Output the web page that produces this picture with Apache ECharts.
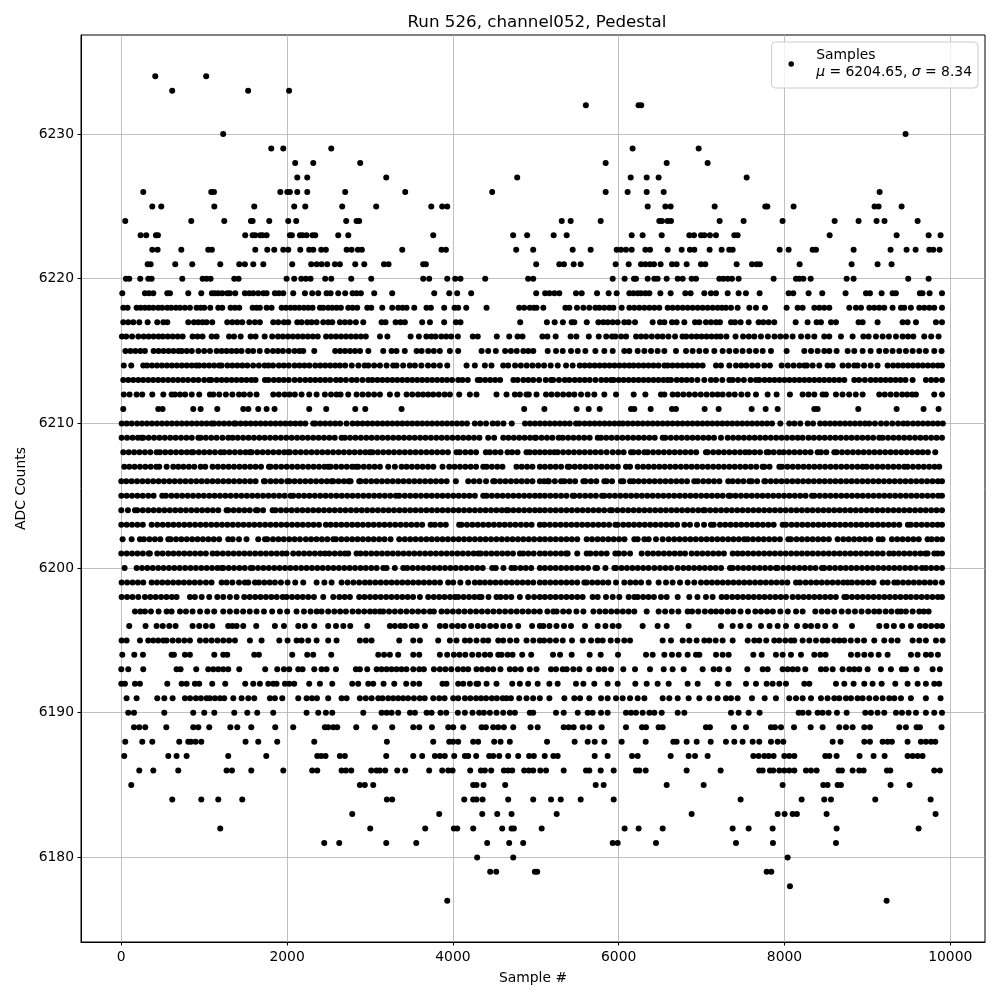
<!DOCTYPE html>
<html><head><meta charset="utf-8">
<style>html,body{margin:0;padding:0;background:#fff}#c{width:1000px;height:1000px}</style>
<script src="https://cdn.jsdelivr.net/npm/echarts@6/dist/echarts.min.js"></script>
</head><body><div id="c"></div>
<script>
const chartTitle='Run 526, channel052, Pedestal';
const xName='Sample #';
const yName='ADC Counts';
const xTicks=[0,2000,4000,6000,8000,10000];
const yTicks=[6180,6190,6200,6210,6220,6230];
const x6234=[410,1024];
const x6233=[614,1530,2024];
const x6232=[5604,6240,6272];
const x6230=[1229,9461];
const x6229=[1809,1954,2533,6168,6965];
const x6228=[2098,2316,2882,5843,6579,7073];
const x6227=[2123,2243,3196,4776,6145,6338,6482,7544];
const x6226=[265,1085,1118,1918,2002,2034,2123,2243,2701,3425,4474,5843,6108,6338,6543,9148];
const x6225=[374,482,1122,1604,2086,2219,2665,3075,3739,3871,3932,6350,6563,6627,7158,7769,7793,8110,9087,9135,9413];
const x6224=[48,844,1242,1564,1584,1785,2014,2110,2713,2838,2870,5313,5421,5783,6490,6522,6590,6631,7218,7507,7977,8605,8894,9111,9207,9606];
const x6223=[233,301,418,442,1495,1584,1616,1676,1704,1753,2034,2058,2155,2187,2235,2307,2340,2617,2738,3763,4727,4896,5216,5373,6157,6289,6519,6852,6909,6993,7033,7101,7174,7395,7435,8545,9353,9739,9883];
const x6222=[374,438,724,1049,1093,1616,1761,1845,1954,2014,2159,2267,2316,2412,2468,2718,2778,2854,2902,3389,3863,3916,4764,4969,5445,5662,5976,6028,6088,6157,6322,6378,6591,6760,6860,6913,7097,7242,7334,7375,7942,8050,8340,8380,8834,9280,9473,9582,9747,9795,9871];
const x6221=[318,354,651,856,1194,1423,1491,1592,1713,2062,2291,2356,2416,2484,2577,2637,2822,2931,3168,3224,3642,3674,5005,5284,5340,5457,5542,5964,6121,6269,6322,6378,6426,6506,6643,6699,6820,6993,7045,7423,7608,7664,7704,8183,8810,9123,9292];
const x6220=[56,96,229,326,366,736,981,1029,1077,1363,1415,1994,2086,2171,2227,2283,2460,2533,2774,3015,3642,3714,3932,4028,4092,4390,4908,4969,5928,6072,6185,6209,6350,6430,6470,6579,6712,6772,6880,6933,7214,7262,7315,7367,7447,7869,8139,8179,8227,8316,8750,8834,9493,9739];
const x6219=[12,285,334,386,555,587,808,965,1093,1130,1170,1218,1278,1310,1375,1491,1544,1592,1652,1713,1753,1853,1901,1954,2074,2215,2303,2376,2476,2525,2617,2701,2790,2838,2890,3051,3268,3775,3956,4052,4221,5005,5113,5165,5225,5284,5485,5554,5739,5879,5976,6129,6177,6229,6269,6322,6370,6503,6627,6804,6868,7033,7113,7174,7315,7447,7535,7700,8050,8106,8291,8456,8737,8983,9031,9172,9304,9344,9633,9665,9751,9900];
const x6218=[24,76,185,233,285,334,386,446,494,555,603,659,708,768,828,908,957,1001,1073,1170,1218,1318,1371,1423,1584,1632,1672,1753,1813,1934,1986,2042,2094,2147,2203,2255,2307,2396,2436,2496,2545,2597,2649,2738,2790,2846,2967,3015,3148,3268,3341,3393,3441,3534,3682,3735,3895,4020,4064,4161,4406,4800,4860,4928,4977,5009,5091,5357,5405,5497,5574,5646,5719,5767,5827,5887,5936,6036,6129,6189,6249,6310,6370,6430,6490,6591,6651,6712,6772,6832,6892,6953,7013,7073,7134,7194,7246,7294,7355,7435,7576,7656,7765,8026,8159,8219,8360,8420,8480,8541,8782,8862,8923,9023,9083,9143,9204,9304,9405,9445,9525,9626,9686,9747,9807,9900];
const x6217=[24,84,145,217,318,434,507,555,808,876,929,981,1029,1097,1278,1339,1399,1459,1544,1612,1672,1833,1893,1962,2014,2123,2175,2243,2295,2356,2436,2496,2545,2637,2697,2758,2830,2919,3140,3188,3309,3369,3421,3630,3723,3895,4036,4092,4812,5134,5228,5327,5433,5465,5615,5755,5815,5868,5928,5988,6068,6121,6197,6410,6498,6551,6643,6699,6792,6921,6973,7053,7113,7174,7222,7355,7403,7471,7568,7688,7745,7809,7877,8135,8279,8388,8440,8561,8621,8894,8943,9123,9425,9485,9586,9827,9900];
const x6216=[8,60,130,205,270,330,390,450,500,560,620,680,740,860,920,980,1090,1150,1300,1360,1440,1560,1620,1730,1820,1890,1950,2010,2070,2130,2190,2250,2310,2370,2470,2530,2590,2650,2710,2770,2830,2890,2950,3120,3210,3490,3590,3680,3740,3790,3860,3920,3980,4060,4240,4300,4530,4680,4780,4840,5080,5140,5240,5420,5490,5640,5760,5850,5920,5960,6030,6090,6210,6270,6330,6400,6470,6530,6600,6680,6770,6815,6880,6940,7000,7060,7120,7180,7230,7300,7410,7500,7570,7636,7716,7800,7880,7950,8018,8098,8200,8280,8360,8480,8540,8681,8822,8951,9015,9103,9184,9260,9345,9425,9490,9554,9686,9770,9859];
const x6215=[50,110,170,230,285,390,450,510,570,630,690,730,790,850,930,1000,1070,1150,1210,1270,1330,1390,1450,1530,1590,1670,1760,1830,1890,1950,2020,2090,2150,2195,2328,2580,2640,2700,2760,2820,2880,2980,3160,3260,3320,3420,3562,3622,3702,3770,3843,3964,4064,4346,4426,4518,4630,4700,4770,4850,4910,4970,5144,5244,5325,5425,5506,5598,5719,5827,5928,6068,6129,6229,6310,6390,6470,6551,6691,6812,6892,6973,7053,7154,7254,7334,7415,7495,7576,7656,7737,7837,8026,8239,8320,8400,8480,8541,8629,8762,8842,8943,9039,9143,9224,9304,9385,9465,9546,9626,9706,9807,9895];
const x6214=[30,120,265,310,370,430,490,550,610,670,730,790,850,905,940,1000,1060,1120,1180,1210,1280,1340,1400,1460,1520,1590,1660,1730,1775,1830,1900,1960,2020,2090,2150,2210,2270,2340,2400,2460,2520,2580,2637,2700,2780,2860,2935,2980,3050,3120,3200,3280,3320,3400,3480,3542,3620,3700,3770,3843,3932,4165,4265,4386,4466,4607,4667,4750,4820,4890,4960,5029,5100,5180,5265,5365,5445,5530,5590,5650,5710,5770,5830,5890,5950,6010,6070,6129,6180,6240,6300,6360,6420,6480,6551,6591,6650,6710,6770,6830,6890,6950,7013,7174,7234,7335,7415,7480,7540,7610,7676,7757,7825,7966,8040,8110,8180,8239,8270,8340,8420,8520,8581,8701,8770,8842,8882,8960,9040,9123,9244,9310,9370,9430,9490,9550,9610,9670,9730,9790,9850,9900];
const x6213=[24,85,145,205,265,325,385,445,505,565,625,685,745,805,870,930,1000,1060,1085,1150,1210,1270,1330,1390,1450,1510,1570,1620,1733,1775,1840,1900,1960,2020,2090,2155,2220,2280,2340,2400,2460,2520,2590,2645,2710,2780,2840,2910,2979,3030,3090,3150,3210,3270,3330,3390,3450,3510,3570,3630,3690,3750,3810,3870,3930,3990,4064,4115,4180,4300,4330,4390,4450,4510,4570,4730,4780,4850,4910,4970,5040,5120,5184,5210,5280,5350,5405,5470,5530,5590,5650,5720,5790,5850,5908,5940,6000,6060,6120,6180,6240,6300,6360,6420,6480,6540,6591,6631,6700,6760,6820,6880,6950,7033,7113,7174,7250,7335,7375,7440,7510,7590,7656,7696,7760,7820,7880,7940,8000,8060,8120,8180,8240,8300,8360,8420,8480,8540,8600,8660,8722,8842,8900,8970,9040,9100,9160,9220,9280,9340,9400,9460,9546,9706,9770,9830,9900];
const x6212=[30,100,185,253,374,507,607,647,708,770,850,940,1069,1110,1182,1262,1340,1420,1480,1552,1632,1833,1900,1970,2030,2094,2175,2267,2356,2456,2530,2597,2645,2738,2838,2910,2980,3050,3120,3240,3329,3441,3510,3580,3640,3702,3763,3830,3900,3964,4076,4205,4285,4526,4647,4748,4808,4888,4916,5009,5123,5190,5260,5330,5400,5465,5546,5626,5706,5827,5968,6181,6322,6510,6551,6651,6712,6780,6850,6920,6990,7060,7130,7194,7254,7330,7400,7480,7556,7656,7797,7905,8066,8219,8290,8360,8460,8500,8621,8700,8780,8860,8943,9143,9210,9280,9350,9420,9480,9540,9586,9807,9900];
const x6211=[24,446,498,868,957,1158,1471,1532,1652,1753,1849,2267,2472,2822,2943,3381,4860,5104,5493,5638,5771,6149,6189,6386,6643,6691,7037,7206,7604,7773,7918,8360,8400,8890,9353,9678,9859];
const x6210=[5,65,125,190,250,310,370,430,490,550,610,670,730,790,850,910,970,1030,1090,1120,1180,1240,1300,1360,1380,1440,1500,1560,1620,1680,1740,1800,1860,1920,1980,2040,2100,2160,2220,2315,2340,2400,2460,2520,2580,2640,2717,2790,2850,2910,2970,3030,3090,3150,3210,3270,3330,3390,3450,3510,3570,3630,3690,3750,3810,3870,3930,3990,4050,4110,4170,4265,4330,4400,4480,4540,4610,4710,4870,4930,4990,5050,5110,5170,5230,5290,5350,5410,5485,5526,5590,5650,5710,5770,5830,5890,5950,6008,6050,6110,6170,6230,6290,6350,6410,6470,6530,6590,6650,6710,6770,6830,6890,6950,7010,7070,7130,7190,7250,7310,7370,7430,7490,7550,7610,7670,7730,7790,7850,7950,8058,8120,8190,8279,8344,8430,8490,8550,8610,8670,8730,8790,8850,8910,8970,9023,9091,9164,9230,9300,9370,9433,9485,9550,9610,9670,9730,9790,9850,9910];
const x6209=[4,70,135,200,245,265,330,395,460,525,590,655,720,785,850,929,957,1020,1085,1150,1220,1290,1343,1405,1470,1535,1600,1665,1730,1795,1860,1925,1990,2055,2120,2185,2250,2315,2380,2445,2510,2575,2657,2697,2760,2825,2890,2955,3020,3085,3150,3215,3280,3345,3410,3475,3540,3605,3670,3735,3800,3865,3930,3995,4060,4125,4190,4255,4320,4426,4498,4607,4670,4735,4800,4865,4930,4989,5003,5070,5135,5200,5276,5325,5390,5455,5520,5585,5650,5747,5787,5850,5915,5980,6045,6110,6175,6240,6305,6370,6435,6531,6563,6630,6695,6760,6825,6890,6955,7020,7085,7150,7234,7315,7380,7445,7510,7575,7640,7705,7770,7835,7900,7965,8030,8095,8160,8219,8291,8355,8420,8485,8550,8615,8680,8745,8810,8875,8940,9005,9070,9143,9184,9250,9315,9380,9445,9510,9575,9640,9705,9770,9835,9900];
const x6208=[24,90,155,220,285,350,426,466,530,595,660,725,790,848,868,935,1000,1065,1130,1198,1242,1305,1370,1435,1500,1552,1572,1640,1705,1770,1835,1900,1965,2014,2034,2100,2165,2230,2295,2360,2425,2490,2555,2620,2685,2750,2815,2880,2945,2999,3031,3095,3160,3225,3290,3355,3420,3485,3550,3615,3680,3745,3810,3875,3940,4044,4084,4150,4215,4280,4398,4446,4510,4575,4659,4715,4780,4888,4928,4990,5049,5110,5170,5224,5264,5330,5395,5460,5525,5590,5655,5720,5785,5855,5928,5995,6060,6149,6177,6240,6310,6350,6415,6480,6545,6610,6675,6740,6805,6870,6935,7053,7073,7140,7205,7270,7335,7400,7465,7528,7576,7640,7705,7785,7809,7870,7938,7990,8055,8120,8185,8250,8315,8400,8440,8505,8601,8629,8695,8760,8825,8890,8955,9020,9085,9150,9215,9280,9345,9410,9475,9540,9606,9666,9730,9819];
const x6207=[36,96,160,225,290,355,422,458,547,627,688,750,815,880,957,1013,1101,1165,1230,1295,1360,1425,1490,1555,1620,1685,1781,1801,1865,1930,1995,2060,2125,2190,2255,2320,2385,2450,2496,2525,2590,2655,2720,2785,2830,2858,2925,2990,3055,3120,3220,3300,3381,3441,3505,3570,3635,3700,3765,3875,3956,4020,4085,4150,4215,4280,4366,4406,4470,4535,4598,4767,4830,4895,4960,5049,5110,5175,5240,5305,5385,5405,5470,5535,5600,5665,5730,5795,5860,5925,5990,6088,6137,6229,6295,6360,6425,6490,6555,6620,6685,6750,6815,6880,6945,7010,7075,7140,7205,7270,7335,7400,7465,7530,7595,7660,7736,7757,7820,7938,7970,8035,8100,8165,8230,8295,8360,8425,8490,8555,8620,8685,8750,8815,8880,8943,8991,9055,9120,9185,9250,9315,9380,9445,9485,9550,9615,9680,9745,9810,9867];
const x6206=[0,60,125,190,255,320,385,450,515,580,645,710,775,840,905,970,1035,1100,1165,1230,1295,1360,1425,1490,1555,1620,1720,1733,1800,1865,1930,2002,2026,2090,2155,2220,2285,2350,2415,2480,2537,2557,2620,2685,2742,2766,2870,2886,2950,3015,3080,3145,3210,3275,3340,3405,3470,3535,3600,3665,3730,3795,3860,3925,4036,4185,4253,4320,4400,4486,4506,4570,4635,4700,4765,4830,4895,4960,5049,5100,5145,5157,5230,5305,5345,5410,5475,5574,5598,5665,5730,5827,5855,5920,6028,6056,6137,6177,6240,6305,6370,6435,6500,6565,6630,6695,6760,6825,6912,6953,7020,7085,7150,7215,7322,7375,7440,7505,7576,7604,7670,7757,7769,7835,7900,7965,8030,8095,8160,8225,8290,8355,8420,8485,8550,8615,8680,8745,8810,8875,8940,9005,9070,9135,9200,9265,9330,9395,9460,9525,9590,9655,9720,9785,9850,9900];
const x6205=[0,65,130,195,260,325,390,494,539,605,670,735,800,865,930,995,1060,1125,1190,1255,1320,1385,1450,1515,1580,1645,1710,1775,1840,1905,1970,2042,2074,2140,2205,2270,2335,2400,2465,2530,2595,2660,2725,2790,2855,2920,2985,3050,3115,3180,3245,3312,3353,3420,3485,3550,3615,3680,3745,3810,3875,3940,4005,4070,4135,4200,4265,4366,4406,4470,4535,4600,4665,4730,4795,4860,4925,4990,5049,5110,5175,5240,5305,5370,5445,5465,5530,5595,5660,5725,5799,5827,5890,5955,6020,6085,6150,6215,6280,6345,6410,6475,6540,6605,6670,6735,6800,6865,6930,6995,7060,7125,7190,7255,7327,7347,7410,7475,7540,7605,7670,7735,7800,7865,7930,7995,8060,8125,8190,8255,8332,8360,8425,8490,8555,8620,8685,8750,8815,8880,8945,9010,9075,9140,9205,9270,9335,9400,9465,9530,9595,9660,9725,9790,9855,9900];
const x6204=[0,80,165,193,260,325,390,455,520,585,650,715,780,845,910,975,1040,1105,1170,1270,1290,1355,1420,1485,1550,1624,1644,1710,1825,1861,1925,1990,2055,2120,2185,2250,2315,2380,2445,2510,2575,2640,2705,2770,2835,2900,2965,3030,3095,3160,3225,3290,3355,3420,3485,3550,3615,3680,3745,3810,3875,3940,4005,4070,4135,4200,4265,4330,4395,4460,4525,4590,4647,4667,4730,4795,4860,4925,4990,5049,5110,5175,5240,5305,5370,5435,5500,5565,5630,5695,5760,5825,5895,5920,5985,6050,6115,6180,6245,6310,6375,6440,6505,6570,6635,6700,6765,6830,6895,6960,7021,7041,7105,7170,7235,7300,7365,7430,7495,7560,7625,7690,7755,7820,7885,7950,8015,8080,8145,8210,8275,8340,8405,8470,8535,8600,8665,8730,8795,8860,8925,8990,9055,9120,9185,9250,9315,9380,9445,9510,9575,9640,9705,9770,9835,9900];
const x6203=[0,65,130,195,260,366,434,500,565,630,695,760,825,890,955,1020,1085,1150,1215,1280,1345,1410,1475,1540,1605,1670,1735,1800,1865,1930,1995,2060,2125,2190,2255,2320,2385,2468,2525,2590,2655,2720,2785,2850,2915,2980,3045,3110,3175,3240,3305,3370,3435,3500,3565,3630,3731,3783,3850,3915,4076,4104,4170,4235,4300,4365,4430,4495,4560,4625,4690,4755,4820,4885,4950,5049,5104,5170,5235,5300,5365,5430,5495,5560,5625,5690,5755,5820,5885,5960,5988,6055,6120,6185,6250,6315,6380,6445,6510,6575,6640,6705,6792,6860,6945,7030,7113,7146,7222,7285,7350,7415,7480,7545,7610,7675,7740,7805,7870,7978,8018,8085,8150,8215,8280,8345,8410,8475,8540,8605,8670,8735,8800,8865,8930,8995,9060,9125,9190,9255,9320,9385,9489,9525,9590,9655,9720,9785,9847,9900];
const x6202=[16,125,225,273,340,405,470,567,595,660,725,790,855,920,985,1050,1115,1180,1290,1343,1420,1511,1652,1733,1761,1830,1895,1960,2025,2090,2155,2227,2290,2355,2420,2485,2557,2589,2655,2720,2785,2850,2915,2980,3045,3110,3175,3248,3353,3420,3485,3550,3615,3680,3745,3810,3875,3940,4005,4070,4135,4200,4265,4330,4395,4460,4525,4590,4655,4720,4785,4850,4915,4980,5049,5110,5175,5240,5305,5370,5435,5500,5614,5678,5745,5810,5875,5940,6005,6070,6189,6229,6310,6362,6450,6531,6603,6670,6735,6800,6865,6930,6995,7060,7125,7190,7255,7320,7385,7450,7515,7556,7620,7685,7750,7815,7880,7945,8046,8078,8145,8210,8275,8340,8405,8470,8535,8641,8710,8775,8840,8905,8970,9035,9136,9184,9296,9360,9425,9490,9555,9620,9726,9775,9840,9900];
const x6201=[0,65,130,195,260,330,345,434,498,567,630,695,760,825,890,955,1020,1101,1158,1225,1290,1355,1420,1485,1550,1615,1680,1745,1810,1875,1940,1994,2074,2140,2205,2270,2335,2400,2456,2509,2575,2640,2697,2738,2838,2886,2950,3015,3080,3145,3210,3275,3340,3405,3470,3535,3600,3665,3730,3795,3860,3925,3990,4055,4120,4185,4250,4305,4337,4400,4465,4530,4595,4660,4725,4808,4848,4910,4975,5049,5110,5175,5240,5305,5365,5385,5500,5614,5658,5725,5790,5855,5960,6000,6065,6137,6277,6350,6415,6480,6545,6610,6675,6740,6800,6880,6945,7010,7075,7140,7205,7270,7375,7435,7495,7560,7625,7690,7755,7820,7885,7950,8015,8080,8145,8210,8275,8340,8405,8470,8535,8600,8665,8730,8795,8860,8925,8990,9055,9120,9185,9264,9317,9380,9445,9510,9575,9640,9698,9726,9807,9847,9900];
const x6200=[40,185,250,315,380,445,510,575,640,705,770,835,900,965,1030,1095,1160,1210,1230,1295,1360,1425,1490,1560,1584,1650,1715,1780,1845,1910,1975,2040,2105,2170,2235,2300,2365,2430,2495,2560,2625,2690,2755,2820,2885,2950,3015,3080,3160,3200,3300,3401,3449,3515,3580,3645,3710,3775,3840,3905,3970,4035,4100,4165,4230,4295,4360,4474,4518,4610,4707,4748,4815,4880,4945,5049,5110,5175,5240,5305,5370,5435,5500,5565,5630,5719,5739,5840,5948,5968,6035,6100,6165,6230,6295,6360,6430,6498,6565,6631,6712,6780,6845,6910,6975,7040,7105,7170,7235,7343,7375,7440,7505,7570,7635,7700,7765,7830,7897,7918,7985,8050,8115,8180,8245,8310,8375,8452,8480,8545,8610,8675,8740,8805,8870,8935,9000,9065,9130,9195,9260,9325,9390,9455,9520,9586,9658,9706,9770,9835,9900];
const x6199=[4,70,135,200,265,366,430,495,560,625,690,755,820,885,950,1021,1089,1210,1270,1340,1420,1491,1532,1612,1660,1725,1790,1853,1926,2006,2098,2195,2356,2450,2537,2657,2730,2800,2870,2939,2999,3065,3130,3195,3260,3325,3390,3455,3520,3585,3650,3715,3780,3845,3943,4004,4090,4185,4265,4325,4386,4450,4515,4580,4645,4710,4775,4840,4905,4970,5049,5110,5175,5240,5305,5370,5435,5500,5586,5614,5680,5745,5810,5875,5968,6068,6140,6205,6270,6362,6482,6571,6651,6740,6832,6912,6993,7060,7125,7190,7255,7320,7385,7450,7515,7580,7645,7710,7775,7840,7905,7970,8035,8139,8187,8255,8320,8385,8450,8515,8580,8645,8710,8762,8814,8880,8945,9010,9075,9184,9244,9325,9365,9430,9495,9560,9625,9690,9755,9820,9900];
const x6198=[4,70,135,205,285,350,415,480,545,610,667,828,888,970,1061,1158,1230,1310,1391,1483,1550,1615,1680,1745,1810,1875,1946,1994,2060,2125,2190,2255,2324,2436,2557,2630,2695,2758,2870,2935,3000,3065,3130,3195,3260,3325,3390,3455,3520,3602,3702,3770,3835,3900,3965,4024,4064,4130,4195,4260,4317,4345,4430,4526,4575,4640,4705,4808,4908,4980,5049,5110,5175,5240,5305,5370,5435,5500,5565,5686,5747,5847,5928,6008,6120,6189,6229,6295,6360,6425,6510,6579,6712,6852,6950,7053,7133,7242,7302,7370,7435,7500,7565,7630,7695,7760,7825,7890,7955,8018,8098,8165,8230,8295,8360,8425,8490,8555,8620,8722,8750,8815,8880,8945,9010,9075,9140,9205,9270,9335,9400,9465,9525,9590,9655,9720,9785,9850,9900];
const x6197=[165,230,285,358,450,547,607,708,780,860,950,1037,1121,1230,1310,1390,1470,1550,1632,1721,1820,1914,2001,2114,2203,2283,2356,2416,2496,2570,2640,2710,2790,2860,2930,3000,3060,3120,3160,3230,3300,3370,3440,3510,3580,3650,3723,3771,3863,3930,4000,4070,4140,4210,4280,4350,4420,4490,4560,4630,4700,4770,4840,4910,4980,5049,5140,5212,5252,5330,5400,5490,5574,5695,5770,5840,5910,5980,6050,6120,6189,6338,6482,6560,6640,6720,6832,6885,6960,7040,7113,7174,7240,7314,7383,7470,7560,7648,7717,7790,7860,7950,8040,8139,8219,8372,8450,8520,8600,8690,8770,8850,8930,9010,9083,9143,9220,9290,9365,9405,9465,9546,9626,9680,9739];
const x6196=[96,293,426,500,579,655,860,940,1020,1097,1290,1340,1391,1471,1628,1853,1962,2135,2215,2328,2496,2590,2678,2762,2967,3240,3300,3369,3421,3502,3562,3663,3843,3910,3990,4060,4130,4220,4300,4370,4450,4520,4607,4687,4788,4956,5049,5091,5165,5250,5340,5425,5594,5747,5840,5928,6000,6289,6470,6579,6844,7234,7375,7470,7576,7717,7820,7918,8018,8151,8251,8320,8400,8492,8613,8814,9143,9230,9320,9420,9525,9634,9700,9770,9840,9900];
const x6195=[4,64,225,325,385,445,507,547,620,690,760,828,949,1020,1090,1160,1230,1300,1371,1552,1692,1906,2006,2115,2175,2255,2356,2496,2597,2878,2950,3019,3353,3522,3602,3823,3964,4044,4145,4205,4285,4366,4426,4547,4607,4690,4768,4888,4970,5049,5100,5170,5244,5325,5437,5566,5667,5747,5807,5904,5985,6068,6137,6530,6631,6772,6852,6940,7033,7093,7170,7254,7375,7556,7636,7696,7780,7877,7938,8010,8078,8118,8219,8300,8380,8460,8520,8600,8661,8721,8800,8880,8960,9083,9204,9290,9365,9546,9626,9706,9827,9907];
const x6194=[12,157,261,607,635,768,828,1122,1230,1278,1604,1660,2062,2243,2315,2533,3100,3170,3240,3340,3522,3594,3843,3931,4012,4080,4150,4233,4310,4386,4450,4547,4587,4660,4720,4836,4945,5208,5293,5433,5650,5783,5992,6330,6410,6551,6643,6724,6832,6933,6973,7174,7254,7327,7624,7725,7897,7978,8078,8199,8360,8432,8496,8802,8882,8963,9043,9136,9244,9525,9606,9706,9767,9851];
const x6193=[0,84,265,667,715,904,1049,1110,1170,1230,1290,1423,1736,1881,1962,2026,2135,2187,2328,2416,2476,2589,2830,2878,2967,3080,3140,3200,3260,3320,3380,3440,3522,3594,3650,3771,3843,3910,3980,4060,4125,4185,4285,4350,4420,4486,4574,4687,4750,4820,4928,5009,5184,5244,5325,5373,5453,5526,5646,5759,5827,5908,6056,6197,6378,6543,6651,6784,7013,7146,7214,7323,7552,7737,7797,7978,8038,8098,8159,8251,8440,8500,8581,8701,8782,8842,8902,9003,9164,9284,9417,9465,9594,9787,9875];
const x6192=[0,44,165,225,555,728,788,888,940,1097,1254,1495,1592,1672,1773,1833,1873,1974,2026,2086,2267,2396,2545,2786,2858,2979,3039,3164,3293,3437,3522,3594,3875,3923,4064,4125,4205,4285,4305,4406,4526,4716,4808,4908,5023,5164,5264,5485,5574,5706,5867,5988,6201,6338,6470,6603,6832,6953,7194,7327,7536,7656,7785,7857,7938,8018,8239,8300,8621,8722,8834,8963,9063,9172,9337,9485,9606,9706,9807,9867];
const x6191=[64,185,434,519,619,768,830,900,960,1029,1069,1130,1190,1242,1351,1451,1532,1604,1793,1853,1942,2135,2235,2300,2360,2496,2657,2718,2878,2950,3020,3100,3152,3220,3280,3340,3400,3460,3530,3600,3660,3763,3835,3900,4004,4064,4145,4210,4280,4340,4400,4470,4530,4600,4647,4700,4800,4888,4968,5049,5164,5345,5465,5534,5646,5787,5867,5968,6048,6137,6229,6310,6531,6611,6712,6844,6973,7093,7194,7294,7355,7435,7608,7761,7897,8058,8139,8219,8320,8440,8520,8601,8661,8742,8802,8882,8943,9023,9103,9184,9264,9325,9405,9525,9706,9883];
const x6190=[84,153,519,868,1001,1122,1363,1520,1640,1833,2235,2376,2468,2545,2919,3140,3200,3260,3340,3483,3542,3683,3743,3851,3920,4060,4145,4237,4317,4374,4446,4526,4607,4687,4748,4928,4969,5244,5337,5506,5626,5686,5787,5867,6088,6149,6209,6289,6370,6430,6519,6712,6792,7355,7447,7568,7700,8171,8219,8291,8400,8460,8532,8633,8750,8975,9043,9123,9204,9345,9417,9497,9586,9706,9807,9900];
const x6189=[153,217,289,543,868,929,1061,1315,1399,1568,1857,2074,2456,2496,2557,2605,2834,3059,3268,3522,3594,3747,3944,4004,4125,4346,4398,4486,4547,4615,4728,4937,5023,5337,5397,5457,5566,5646,5795,6088,6281,6330,6482,6531,7053,7101,7391,7536,7837,7885,7958,8115,8316,8460,8661,8742,8822,8963,9031,9385,9465,9594,9634,9895];
const x6188=[48,253,374,699,808,840,896,965,1499,1652,1881,2328,3204,3763,3956,4004,4064,4245,4305,4498,4575,4687,5136,5469,5626,5711,5827,6036,6326,6659,6699,6820,6941,7110,7294,7395,7495,7616,7696,7837,7918,7986,8581,8677,8963,9031,9184,9244,9296,9485,9646,9706,9767,9819];
const x6187=[36,567,667,788,1290,1749,2364,2412,2464,2637,2697,3196,3522,3630,3783,3843,3903,4016,4145,4185,4281,4438,4486,4559,4667,4788,4920,4977,5108,5212,5264,5711,5867,6161,6229,6627,6844,6921,7073,7624,7688,7757,7809,7869,7998,8058,8119,8492,8541,8629,8906,9075,9208,9485,9546,9606,9666];
const x6186=[217,386,687,1270,1335,1568,1954,2303,2364,2657,2710,2774,3015,3079,3119,3184,3329,3425,3714,3871,3944,3996,4209,4338,4386,4462,4615,4667,4716,4860,4916,4969,5055,5124,5337,5606,5646,5783,5940,6209,6249,6326,6820,7230,7696,7737,7825,7865,7938,7998,8058,8119,8259,8320,8388,8653,8693,8822,8902,8955,9236,9276,9807,9875];
const x6185=[120,2878,2938,3039,4245,4285,4370,4631,5723,5819,6579,7025,7978,8468,8520,8641,8681,9280,9509];
const x6184=[615,965,1170,1459,3204,3268,4137,4245,4285,4358,4667,4969,5184,5301,5542,5940,7471,8207,8480,8561,9095,9763];
const x6183=[2786,3835,4354,4535,4708,5252,6880,7918,8002,8098,8150,8508,9823];
const x6182=[1194,3003,3666,4012,4052,4245,4595,4708,4736,5071,6072,6241,6531,7375,7568,7857,8629,9618];
const x6181=[2448,2629,3196,3558,4414,4679,4848,5928,5988,6450,7415,7861,8621];
const x6180=[4293,4728,8038];
const x6179=[4450,4523,4989,5017,7785,7841];
const x6178=[8066];
const x6177=[3932,9232];
const rows=[[6234,x6234],[6233,x6233],[6232,x6232],[6230,x6230],[6229,x6229],[6228,x6228],[6227,x6227],[6226,x6226],[6225,x6225],[6224,x6224],[6223,x6223],[6222,x6222],[6221,x6221],[6220,x6220],[6219,x6219],[6218,x6218],[6217,x6217],[6216,x6216],[6215,x6215],[6214,x6214],[6213,x6213],[6212,x6212],[6211,x6211],[6210,x6210],[6209,x6209],[6208,x6208],[6207,x6207],[6206,x6206],[6205,x6205],[6204,x6204],[6203,x6203],[6202,x6202],[6201,x6201],[6200,x6200],[6199,x6199],[6198,x6198],[6197,x6197],[6196,x6196],[6195,x6195],[6194,x6194],[6193,x6193],[6192,x6192],[6191,x6191],[6190,x6190],[6189,x6189],[6188,x6188],[6187,x6187],[6186,x6186],[6185,x6185],[6184,x6184],[6183,x6183],[6182,x6182],[6181,x6181],[6180,x6180],[6179,x6179],[6178,x6178],[6177,x6177]];
const points=[];
rows.forEach(function(r){r[1].forEach(function(x){points.push([x,r[0]]);});});
const font='"DejaVu Sans"';
const chart=echarts.init(document.getElementById('c'),null,{renderer:'canvas'});
chart.setOption({
  animation:false,
  backgroundColor:'#fff',
  textStyle:{fontFamily:font},
  title:{text:chartTitle,left:532,top:9,textAlign:'center',textStyle:{fontFamily:font,fontSize:16.7,fontWeight:'normal',color:'#000'}},
  grid:{left:81,right:15,top:35,bottom:58,show:true,borderColor:'#000',borderWidth:1,backgroundColor:'transparent',outerBoundsMode:'none',containLabel:false},
  legend:{right:22,top:42,orient:'vertical',padding:[5,6,7,17],itemWidth:40,itemHeight:5.5,icon:'circle',
    backgroundColor:'rgba(255,255,255,0.8)',borderColor:'#ccc',borderWidth:1,borderRadius:4,
    data:['Samples'],
    formatter:function(){return 'Samples\n{i|μ} = 6204.65, {i|σ} = 8.34';},
    textStyle:{fontFamily:font,fontSize:13.9,color:'#000',lineHeight:17,rich:{i:{fontStyle:'italic',fontFamily:font,fontSize:13.9,color:'#000',lineHeight:17}}}},
  xAxis:{type:'value',min:-486,max:10419,name:xName,nameLocation:'middle',nameGap:29,nameMoveOverlap:false,
    nameTextStyle:{fontFamily:font,fontSize:13.9,color:'#000'},
    axisLine:{show:true,onZero:false,lineStyle:{color:'#000',width:1}},axisTick:{show:true,length:3.5,lineStyle:{color:'#000'},customValues:xTicks},
    axisLabel:{fontFamily:font,fontSize:13.9,color:'#000',margin:8,customValues:xTicks,formatter:function(v){return String(v);}},
    splitLine:{show:true,lineStyle:{color:'#b0b0b0',width:0.8}}},
  yAxis:{type:'value',min:6174.15,max:6236.85,name:yName,nameLocation:'middle',nameGap:53,nameMoveOverlap:false,
    nameTextStyle:{fontFamily:font,fontSize:13.9,color:'#000'},
    axisLine:{show:true,onZero:false,lineStyle:{color:'#000',width:1}},axisTick:{show:true,length:3.5,lineStyle:{color:'#000'},customValues:yTicks},
    axisLabel:{fontFamily:font,fontSize:13.9,color:'#000',margin:7,customValues:yTicks,formatter:function(v){return String(v);}},
    splitLine:{show:true,lineStyle:{color:'#b0b0b0',width:0.8}}},
  series:[{name:'Samples',type:'scatter',symbol:'circle',symbolSize:6,itemStyle:{color:'#000',opacity:1},data:points,large:false,silent:true,z:3}]
});
</script></body></html>
